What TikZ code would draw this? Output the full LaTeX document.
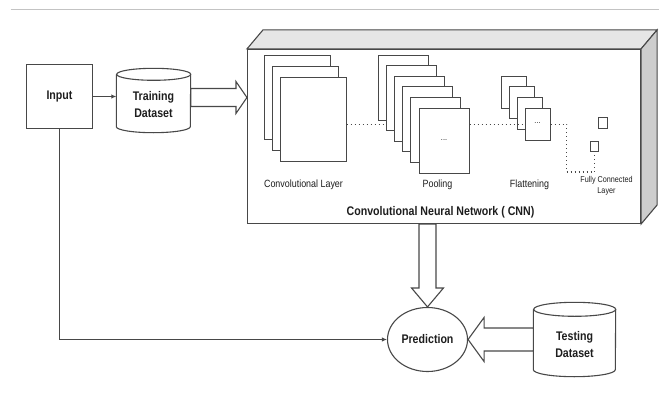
\documentclass[tikz,border=0pt]{standalone}
\usepackage{fontspec}
\setmainfont{Liberation Sans}[FakeStretch=0.85]
\usetikzlibrary{arrows.meta,calc,shapes.geometric}

\definecolor{ink}{RGB}{72,72,72}
\definecolor{txt}{RGB}{30,30,30}
\definecolor{topface}{RGB}{230,230,230}
\definecolor{sideface}{RGB}{205,205,205}
\definecolor{rulegray}{RGB}{195,195,195}

% database drum: #1 node, #2 half width, #3 cap radius
\newcommand\dbdrum[3]{%
  \draw[line] ([yshift=-#3]#1.north west) -- ([yshift=#3]#1.south west)
    arc[start angle=180, end angle=360, x radius=#2, y radius=#3]
    -- ([yshift=-#3]#1.north east)
    arc[start angle=0, end angle=180, x radius=#2, y radius=#3]
    arc[start angle=180, end angle=360, x radius=#2, y radius=#3];}

\begin{document}
\begin{tikzpicture}[x=1pt,y=1pt,
  line/.style={draw=ink, line width=1.1pt},
  boldtext/.style={text=txt, font=\bfseries\fontsize{12.5}{17}\selectfont, align=center},
  labeltext/.style={text=txt, font=\fontsize{10.5}{12}\selectfont, align=center},
  tinytext/.style={text=txt, font=\fontsize{8.5}{11}\selectfont, align=center},
  layer/.style={draw=ink, fill=white, line width=1pt, inner sep=0pt, anchor=north west},
  link/.style={draw=ink, line width=1.2pt, dash pattern=on 1.2pt off 2.8pt},
  hollow/.style={draw=ink, fill=white, line width=1.1pt, line join=miter},
  tip/.style={-{Latex[length=5pt,width=4.5pt]}}
]
\useasboundingbox (0,0) rectangle (659,392);

% half-point shift keeps the thin strokes on pixel centres
\begin{scope}[shift={(0.5,0.5)}]
% header rule
\draw[rulegray, line width=1pt] (10,382) -- (659,382);

% input and training data
\node[line, boldtext, minimum width=66pt, minimum height=64pt, inner sep=0pt] (input) at (59,295) {Input};
\node[inner sep=0pt, minimum width=74pt, minimum height=64pt] (train) at (153,291) {};
\dbdrum{train}{37pt}{6pt}
\node[boldtext] (trainlbl) at ([yshift=-4.5pt]train.center) {Training\\Dataset};

% CNN block: front face, top face, side face
\node[line, fill=white, inner sep=0pt, minimum width=393pt, minimum height=174pt] (cnn) at (443.5,255) {};
\draw[line, fill=topface, line join=miter] (cnn.north west) -- ++(16,19) -- ($(cnn.north east)+(16,19)$) -- (cnn.north east) -- cycle;
\draw[line, fill=sideface, line join=miter] (cnn.north east) -- ++(16,19) -- ($(cnn.south east)+(16,19)$) -- (cnn.south east) -- cycle;

% convolutional feature maps
\foreach \i in {0,1,2}
  \node[layer, minimum width=66pt, minimum height=84pt] (conv\i) at (263+8*\i, 337-11*\i) {};
% pooling maps
\foreach \i in {0,...,5}
  \node[layer, minimum width=50pt, minimum height=65pt] (pool\i) at (377+8.2*\i, 337-10.6*\i) {};
\node[tinytext] (pooldots) at (pool5.center) {...};
% flattening maps
\foreach \i in {0,...,3}
  \node[layer, minimum width=25pt, minimum height=32pt] (flat\i) at (500+8*\i, 316-10.7*\i) {};
\node[tinytext] (flatdots) at ([yshift=1pt]flat3.center) {...};
% fully connected units
\node[draw=ink, line width=1pt, inner sep=0pt, minimum width=9pt, minimum height=11pt] (fc1) at (602.5,268.5) {};
\node[draw=ink, line width=1pt, inner sep=0pt, minimum width=8pt, minimum height=10pt] (fc2) at (594,245) {};

% dotted links between stages
\draw[link] (conv2.east |- flat3.west) -- (pool1.west |- flat3.west);
\draw[link] (pool5.east |- flat3.west) -- (flat3.west);
\draw[link] (flat3.east) -- ++(16,0) |- ($(fc2.south)+(0,-20)$) -- (fc2.south);

% stage labels
\node[labeltext] (lconv) at (303,207) {Convolutional Layer};
\node[labeltext] (lpool) at (437,207) {Pooling};
\node[labeltext] (lflat) at (529,207) {Flattening};
\node[tinytext] (lfc) at (606,205.5) {Fully Connected\\Layer};
\node[boldtext] (cnntitle) at (440,179) {Convolutional Neural Network ( CNN)};

% prediction and test data
\node[line, ellipse, boldtext, inner sep=0pt, minimum width=80pt, minimum height=64pt] (pred) at (427,52) {Prediction};
\node[inner sep=0pt, minimum width=82pt, minimum height=74pt] (test) at (574,52) {};
\dbdrum{test}{41pt}{7pt}
\node[boldtext] (testlbl) at ([yshift=-5.5pt]test.center) {Testing\\Dataset};

% plain connectors
\draw[line, tip] (input.east) -- (input.east -| train.west);
\draw[line, tip] (input.south) |- (pred.west);

% hollow block arrows
\coordinate (aS) at ([yshift=3pt]train.east);
\coordinate (aE) at (aS -| cnn.west);
\draw[hollow] ($(aS)+(0,9)$) -- ($(aE)+(-11,9)$) -- ++(0,7) -- (aE) -- ++(-11,-16) -- ++(0,7) -- ($(aS)+(0,-9)$) -- cycle;

\coordinate (bE) at (pred.north);
\coordinate (bS) at (bE |- cnn.south);
\draw[hollow] ($(bS)+(-8.5,0)$) -- ($(bE)+(-8.5,19)$) -- ++(-7.5,0) -- (bE) -- ++(16,19) -- ++(-7.5,0) -- ($(bS)+(8.5,0)$) -- cycle;

\coordinate (cS) at (test.west);
\coordinate (cE) at (pred.east);
\draw[hollow] ($(cS)+(0,11.5)$) -- ($(cE)+(16,11.5)$) -- ++(0,10.5) -- (cE) -- ++(16,-22) -- ++(0,10.5) -- ($(cS)+(0,-11.5)$) -- cycle;
\end{scope}
\end{tikzpicture}
\end{document}
